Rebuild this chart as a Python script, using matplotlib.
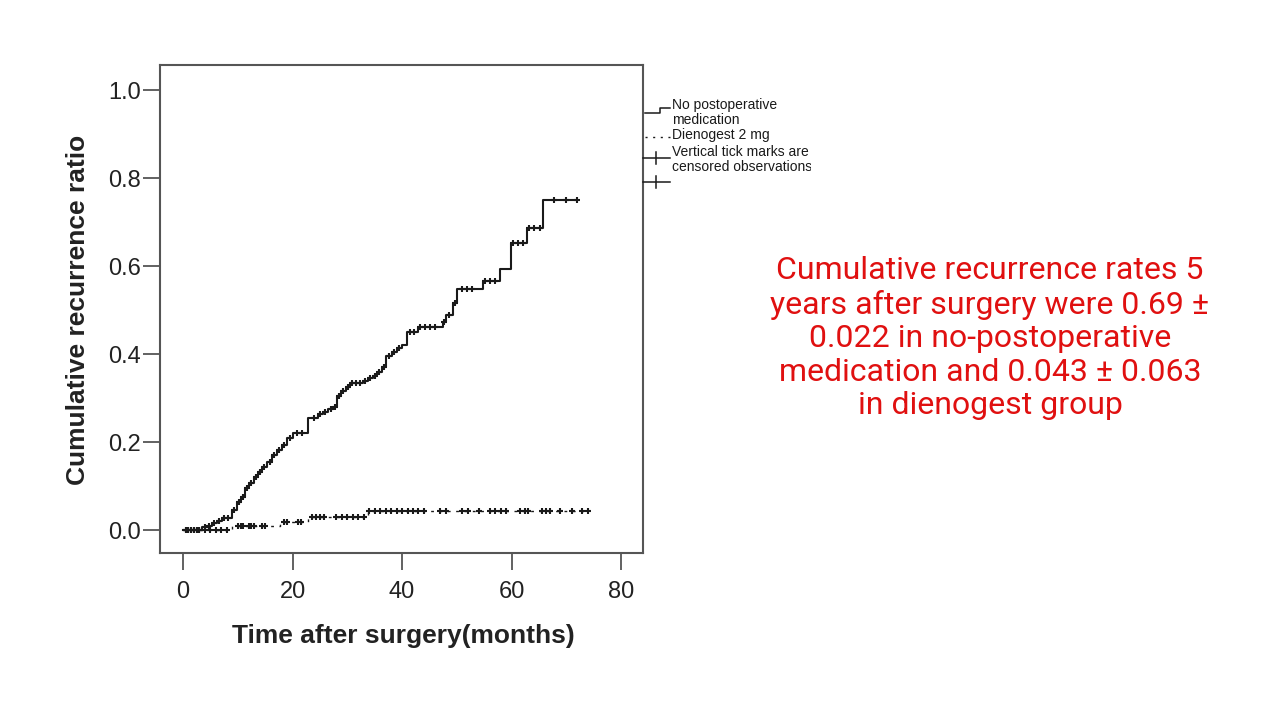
import matplotlib
matplotlib.use("Agg")
import matplotlib.pyplot as plt
import numpy as np
from matplotlib.lines import Line2D
from matplotlib.transforms import Bbox

# No postoperative medication: step times (months) and cumulative recurrence
nomed_t = [0, 3.5, 4.4, 5.3, 6.2, 7.1, 8.9, 9.9, 10.6, 11.3, 12.1, 13.0, 13.7, 14.4,
           15.3, 16.3, 17.2, 18.1, 19.0, 20.1, 22.9, 24.7, 25.6, 26.5, 27.4, 28.1,
           28.9, 29.8, 30.5, 32.9, 33.8, 34.7, 35.4, 36.3, 37.1, 38.2, 39.1, 40.0,
           40.9, 42.9, 47.5, 48.0, 49.3, 50.0, 54.8, 57.9, 59.9, 62.8, 65.8]
nomed_y = [0, 0.007, 0.010, 0.016, 0.020, 0.027, 0.045, 0.064, 0.075, 0.095, 0.107,
           0.120, 0.132, 0.143, 0.155, 0.170, 0.182, 0.193, 0.209, 0.220, 0.255,
           0.264, 0.268, 0.275, 0.280, 0.305, 0.316, 0.325, 0.334, 0.339, 0.345,
           0.350, 0.360, 0.370, 0.395, 0.405, 0.414, 0.420, 0.450, 0.461, 0.473,
           0.489, 0.516, 0.548, 0.566, 0.593, 0.652, 0.686, 0.750]
nomed_end = 72.0
nomed_cens = [0.5, 1.0, 1.5, 2.0, 2.5, 3.0, 4.0, 4.8, 5.7, 6.6, 7.5, 8.2, 9.4, 10.2,
              11.0, 11.7, 12.5, 13.3, 14.0, 14.8, 15.8, 16.7, 17.6, 18.5, 19.5, 20.8,
              21.7, 24.0, 25.1, 26.0, 27.0, 27.8, 28.5, 29.3, 30.2, 30.9, 31.6, 32.3,
              33.3, 34.2, 35.0, 35.8, 36.7, 37.6, 38.6, 39.5, 41.5, 42.2, 43.3, 44.2,
              45.1, 46.0, 47.7, 48.6, 49.6, 51.0, 51.9, 52.8, 55.2, 56.1, 57.0, 60.3,
              61.2, 62.1, 63.2, 64.1, 65.2, 67.8, 70.0, 72.0]

# Dienogest 2 mg
dieno_t = [0, 9.0, 17.7, 22.8, 33.8]
dieno_y = [0, 0.009, 0.018, 0.029, 0.043]
dieno_end = 74.0
dieno_cens = [0.5, 1.0, 1.5, 2.0, 2.5, 3.0, 4.0, 5.0, 6.0, 7.0, 8.0, 10.0, 10.5, 11.0,
              12.0, 12.5, 13.0, 14.5, 15.0, 18.5, 19.0, 21.0, 21.5, 23.5, 24.3, 25.0,
              25.7, 28.0, 29.0, 30.0, 31.0, 32.0, 33.0, 34.0, 35.0, 36.0, 37.0, 38.0,
              39.0, 40.0, 41.0, 42.0, 43.0, 44.0, 47.0, 48.0, 51.0, 52.0, 54.0, 56.0,
              57.0, 58.0, 59.0, 61.5, 62.5, 63.0, 65.5, 66.3, 67.0, 68.8, 71.0, 72.8, 74.0]

xticks = [0, 20, 40, 60, 80]
yticks = [0.0, 0.2, 0.4, 0.6, 0.8, 1.0]

note = ("Cumulative recurrence rates 5\nyears after surgery were 0.69 \u00b1\n"
        "0.022 in no-postoperative\nmedication and 0.043 \u00b1 0.063\nin dienogest group")

plt.rcParams['font.family'] = ['Liberation Sans', 'DejaVu Sans']

W, H = 1280, 720
fig = plt.figure(figsize=(12.8, 7.2), dpi=100)
ax = fig.add_axes([160 / W, 1 - 553 / H, (643 - 160) / W, (553 - 65) / H])


def step_value(times, vals, t):
    i = np.searchsorted(times, t, side='right') - 1
    return np.array(vals)[i]


ink = '#1a1a1a'
# no medication curve
ax.step(nomed_t + [nomed_end], nomed_y + [nomed_y[-1]], where='post', color=ink, lw=1.5)
ax.plot(nomed_cens, step_value(nomed_t, nomed_y, nomed_cens), '+', color=ink, ms=3.8, mew=1.5)
# dienogest curve
ax.step(dieno_t + [dieno_end], dieno_y + [dieno_y[-1]], where='post', color=ink, lw=1.0,
        linestyle=(0, (2, 4)))
ax.plot(dieno_cens, step_value(dieno_t, dieno_y, dieno_cens), '+', color=ink, ms=3.8, mew=1.5)

ax.set_xlim(-4.2, 84.0)
ax.set_ylim(-0.052, 1.057)
ax.set_xticks(xticks)
ax.set_yticks(yticks)
ax.set_yticklabels(['%.1f' % v for v in yticks])
ax.tick_params(axis='both', labelsize=17, length=12, width=1.3, color='#555555',
               labelcolor='#222222')
ax.tick_params(axis='y', pad=2)
ax.tick_params(axis='x', pad=8)
for s in ax.spines.values():
    s.set_color('#555555')
    s.set_linewidth(1.5)

fig.text(78 / W, 1 - 310 / H, 'Cumulative recurrence ratio', rotation=90, ha='center',
         va='center', fontsize=19, fontweight='bold', color='#222222')
fig.text(403 / W, 1 - 636 / H, 'Time after surgery(months)', ha='center', va='center',
         fontsize=19, fontweight='bold', color='#222222')

# legend, drawn by hand in pixel positions
def px(x, y):
    return x / W, 1 - y / H

tf = fig.transFigure
fig.add_artist(Line2D(*zip(px(645, 113), px(660, 113), px(660, 108), px(670, 108)),
                      transform=tf, color=ink, lw=1.1))
fig.add_artist(Line2D(*zip(px(645, 137), px(670, 137)), transform=tf, color=ink, lw=1.0,
                      linestyle=(0, (1.5, 4))))
for yy in (158, 182):
    fig.add_artist(Line2D(*zip(px(643, yy), px(670, yy)), transform=tf, color=ink, lw=1.1))
    fig.add_artist(Line2D(*zip(px(656, yy - 6), px(656, yy + 6)), transform=tf, color=ink, lw=1.1))
leg_fs = 10
clip = Bbox.from_extents(0, 0, 811, H)
for y0, txt, va in [(98, 'No postoperative\nmedication', 'top'),
                    (135, 'Dienogest 2 mg', 'center'),
                    (145, 'Vertical tick marks are\ncensored observations', 'top')]:
    t = fig.text(*px(672, y0), txt, fontsize=leg_fs, va=va, color=ink, linespacing=1.05)
    t.set_clip_box(clip)
    t.set_clip_on(True)

fig.text(990 / W, 1 - 338 / H, note, ha='center', va='center', fontsize=23,
         color='#e01010', family=['Roboto', 'DejaVu Sans'], linespacing=1.2)

fig.savefig('out.png', dpi=100)
